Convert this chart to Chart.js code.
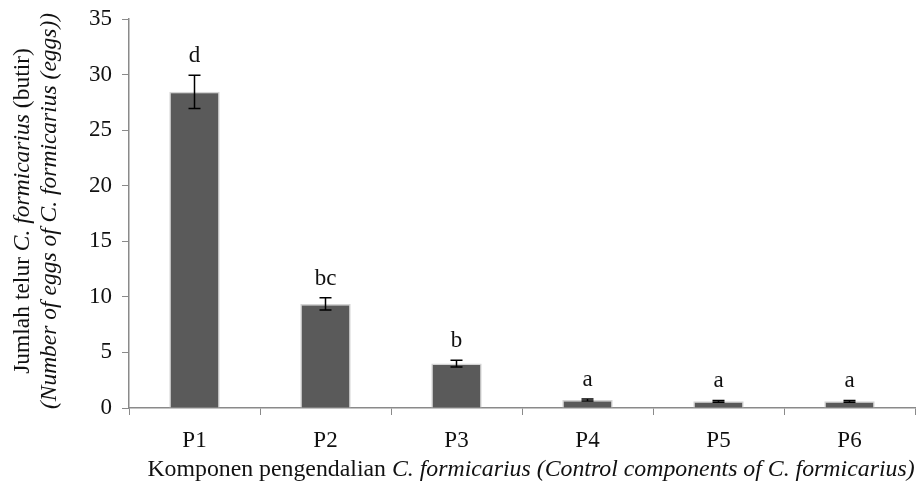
<!DOCTYPE html>
<html>
<head>
<meta charset="utf-8">
<script src="https://cdn.jsdelivr.net/npm/chart.js@4.4.1/dist/chart.umd.min.js"></script>
<style>
  html, body { margin: 0; padding: 0; background: #fff; }
  #wrap { width: 922px; height: 490px; }
</style>
</head>
<body>
<div id="wrap"><canvas id="chart1"></canvas></div>
<script>
const categories = ['P1', 'P2', 'P3', 'P4', 'P5', 'P6']
const eggs = [28.45, 9.36, 4.0, 0.72, 0.6, 0.6]
const errs = [1.5, 0.55, 0.3, 0.08, 0.08, 0.08]
const letters = ['d', 'bc', 'b', 'a', 'a', 'a']
const yTicks = [0, 5, 10, 15, 20, 25, 30, 35]

const serif = "'Liberation Serif', 'Times New Roman', serif"

// draw a line of text made of normal and italic pieces
function mixedText(ctx, parts, x, y, size) {
    let total = 0
    parts.forEach(p => {
        ctx.font = (p.i ? 'italic ' : '') + size + 'px ' + serif
        total += ctx.measureText(p.t).width
    })
    let cx = x - total / 2
    parts.forEach(p => {
        ctx.font = (p.i ? 'italic ' : '') + size + 'px ' + serif
        ctx.fillText(p.t, cx, y)
        cx += ctx.measureText(p.t).width
    })
}

const extras = {
    id: 'extras',
    afterDatasetsDraw(chart) {
        const ctx = chart.ctx
        const meta = chart.getDatasetMeta(0)
        const y = chart.scales.y
        ctx.save()
        // error bars
        ctx.strokeStyle = '#000'
        ctx.lineWidth = 1.5
        meta.data.forEach((bar, i) => {
            const top = y.getPixelForValue(eggs[i] + errs[i])
            const bot = y.getPixelForValue(eggs[i] - errs[i])
            ctx.beginPath()
            ctx.moveTo(bar.x, top); ctx.lineTo(bar.x, bot)
            ctx.moveTo(bar.x - 6, top); ctx.lineTo(bar.x + 6, top)
            ctx.moveTo(bar.x - 6, bot); ctx.lineTo(bar.x + 6, bot)
            ctx.stroke()
        })
        // significance letters
        ctx.fillStyle = '#111'
        ctx.font = '23px ' + serif
        ctx.textAlign = 'center'
        ctx.textBaseline = 'alphabetic'
        meta.data.forEach((bar, i) => {
            const top = y.getPixelForValue(eggs[i] + errs[i])
            ctx.fillText(letters[i], bar.x, top - 13)
        })
        // axis titles
        ctx.textAlign = 'left'
        ctx.textBaseline = 'middle'
        ctx.fillStyle = '#111'
        mixedText(ctx, [
            {t: 'Komponen pengendalian '},
            {t: 'C. formicarius (Control components of C. formicarius)', i: true}
        ], 531, 470, 23.8)
        ctx.translate(0, 211)
        ctx.rotate(-Math.PI / 2)
        mixedText(ctx, [
            {t: 'Jumlah telur '},
            {t: 'C. formicarius', i: true},
            {t: ' (butir)'}
        ], 0, 23, 23.5)
        mixedText(ctx, [
            {t: '(Number of eggs of C. formicarius (eggs))', i: true}
        ], 0, 50, 23.5)
        ctx.restore()
    }
}

let chart = new Chart('chart1', {
    type: 'bar',
    data: {
        labels: categories,
        datasets: [{
            data: eggs,
            backgroundColor: '#5a5a5a',
            borderColor: '#d4d4d4',
            borderWidth: 1.5,
            categoryPercentage: 1,
            barPercentage: 0.385
        }]
    },
    options: {
        responsive: true,
        maintainAspectRatio: false,
        animation: false,
        layout: { padding: { top: 19, right: 7, left: 0, bottom: 0 } },
        plugins: {
            legend: { display: false },
            tooltip: { enabled: false }
        },
        scales: {
            x: {
                grid: { drawOnChartArea: false, tickLength: 7, color: '#8a8a8a' },
                border: { color: '#8a8a8a', width: 1.5 },
                ticks: { color: '#111', font: { family: serif, size: 23 }, padding: 12 },
                afterFit(s) { s.height = 82; s.paddingLeft = 0; s.paddingRight = 0 }
            },
            y: {
                min: 0,
                max: 35,
                afterBuildTicks(s) { s.ticks = yTicks.map(v => ({ value: v })) },
                grid: { drawOnChartArea: false, tickLength: 7, color: '#8a8a8a' },
                border: { color: '#8a8a8a', width: 1.5 },
                ticks: { color: '#111', font: { family: serif, size: 23 }, padding: 10 },
                afterFit(s) { s.width = 129; s.paddingTop = 0; s.paddingBottom = 0 }
            }
        }
    },
    plugins: [extras]
})
</script>
</body>
</html>
